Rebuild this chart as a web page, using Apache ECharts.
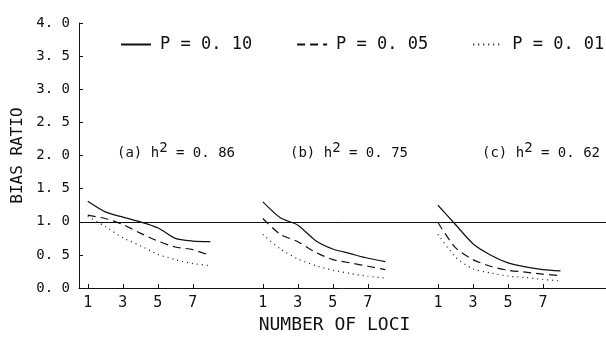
<!DOCTYPE html>
<html>
<head>
<meta charset="utf-8">
<script src="https://cdn.jsdelivr.net/npm/echarts@6/dist/echarts.min.js"></script>
<style>
  html, body { margin: 0; padding: 0; background: #fff; }
  #chart { width: 606px; height: 339px; }
</style>
</head>
<body>
<div id="chart"></div>
<script>
// number of loci, same for every panel
const loci = [1, 2, 3, 4, 5, 6, 7, 8];
// each panel is shifted along the shared x axis
const panelOffsets = [0, 10, 20];
const panelLabels = ['(a) h{s|2} = 0. 86', '(b) h{s|2} = 0. 75', '(c) h{s|2} = 0. 62'];
const tickLabels = ['1', '3', '5', '7'];
const pNames = ['P = 0. 10', 'P = 0. 05', 'P = 0. 01'];

// bias ratio, panel (a)
const a10 = [1.31, 1.15, 1.07, 1.00, 0.91, 0.75, 0.71, 0.70];
const a05 = [1.10, 1.05, 0.96, 0.83, 0.71, 0.62, 0.58, 0.49];
const a01 = [1.08, 0.93, 0.76, 0.64, 0.51, 0.43, 0.37, 0.34];
// panel (b)
const b10 = [1.30, 1.06, 0.95, 0.72, 0.59, 0.52, 0.45, 0.40];
const b05 = [1.05, 0.81, 0.70, 0.54, 0.43, 0.38, 0.33, 0.28];
const b01 = [0.81, 0.59, 0.44, 0.34, 0.27, 0.22, 0.18, 0.15];
// panel (c)
const c10 = [1.25, 0.96, 0.67, 0.50, 0.38, 0.32, 0.28, 0.26];
const c05 = [0.99, 0.61, 0.43, 0.33, 0.27, 0.24, 0.21, 0.19];
const c01 = [0.81, 0.47, 0.29, 0.23, 0.18, 0.16, 0.13, 0.11];

const panels = [[a10, a05, a01], [b10, b05, b01], [c10, c05, c01]];
const lineTypes = ['solid', [8, 5], [1, 4]];
const ink = '#111';
const font = 'DejaVu Sans Mono';

const tickValues = [];
panelOffsets.forEach(off => tickLabels.forEach(t => tickValues.push(off + Number(t))));

const series = [];
panels.forEach((vals, pi) => {
    vals.forEach((ys, k) => {
        series.push({
            name: pNames[k],
            type: 'line',
            symbol: 'none',
            smooth: 0.25,
            lineStyle: {color: ink, width: 1.2, type: lineTypes[k]},
            itemStyle: {color: ink},
            data: loci.map((x, i) => [x + panelOffsets[pi], ys[i]]),
            markLine: (pi === 0 && k === 0) ? {
                silent: true,
                symbol: 'none',
                label: {show: false},
                lineStyle: {color: ink, width: 1, type: 'solid'},
                data: [{yAxis: 1.0}]
            } : undefined
        });
    });
});

const chart = echarts.init(document.getElementById('chart'));
chart.setOption({
    backgroundColor: '#fff',
    animation: false,
    grid: {left: 79, right: 0, top: 23, bottom: 44},
    legend: {
        data: pNames,
        left: 120,
        top: 36,
        width: 486,
        padding: 0,
        itemWidth: 30,
        itemHeight: 14,
        itemGap: 44,
        itemStyle: {opacity: 0},
        textStyle: {fontFamily: font, fontSize: 17, color: ink, padding: [0, 0, 0, 4]}
    },
    xAxis: {
        type: 'value',
        min: 0.5,
        max: 30.6,
        name: 'NUMBER OF LOCI',
        nameLocation: 'middle',
        nameGap: 23,
        nameTextStyle: {fontFamily: font, fontSize: 18, color: ink, padding: [0, 16, 0, 0]},
        splitLine: {show: false},
        axisLine: {lineStyle: {color: ink, width: 1}},
        axisTick: {show: true, inside: true, length: 4, customValues: tickValues, lineStyle: {color: ink}},
        axisLabel: {
            customValues: tickValues,
            margin: 8,
            fontFamily: font,
            fontSize: 15,
            color: ink,
            formatter: v => String(((Math.round(v) - 1) % 10) + 1)
        }
    },
    yAxis: {
        type: 'value',
        min: 0,
        max: 4,
        interval: 0.5,
        name: 'BIAS RATIO',
        nameLocation: 'middle',
        nameRotate: 90,
        nameGap: 52,
        nameTextStyle: {fontFamily: font, fontSize: 16, color: ink},
        splitLine: {show: false},
        axisLine: {show: true, lineStyle: {color: ink, width: 1}},
        axisTick: {show: true, inside: true, length: 4, lineStyle: {color: ink}},
        axisLabel: {
            margin: 9,
            fontFamily: font,
            fontSize: 14,
            color: ink,
            formatter: v => v.toFixed(1).replace('.', '. ')
        }
    },
    graphic: panelLabels.map((txt, i) => ({
        type: 'text',
        left: [117, 290, 482][i],
        top: 141,
        style: {
            text: txt,
            fill: ink,
            font: '14px ' + font,
            rich: {s: {fontSize: 14, fontFamily: font, fill: ink, padding: [0, 0, 11, 0]}}
        }
    })),
    series: series
});
</script>
</body>
</html>
